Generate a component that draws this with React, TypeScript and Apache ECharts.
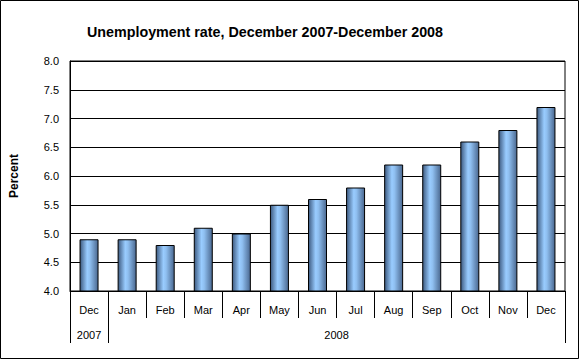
import React, { useEffect, useRef } from "react";
import * as echarts from "echarts";

const titleText = "Unemployment rate, December 2007-December 2008";
const months = ["Dec", "Jan", "Feb", "Mar", "Apr", "May", "Jun", "Jul", "Aug", "Sep", "Oct", "Nov", "Dec"];
const rates = [4.9, 4.9, 4.8, 5.1, 5.0, 5.5, 5.6, 5.8, 6.2, 6.2, 6.6, 6.8, 7.2];
const years = ["2007", "2008"];
// year spans in month-index units: [start, end)
const yearSpans = [
  [0, 1],
  [1, 13],
];
const yAxisName = "Percent";

export default function App() {
  const ref = useRef<HTMLDivElement>(null);
  useEffect(() => {
    if (!ref.current) return;
    const chart = echarts.init(ref.current, null, { renderer: "svg" });
    const font = "Arial, 'Liberation Sans', sans-serif";
    const yearTicks = [yearSpans[0][0], ...yearSpans.map((s) => s[1])];
    const yearCenters = yearSpans.map((s) => (s[0] + s[1]) / 2);
    chart.setOption({
      animation: false,
      backgroundColor: "#ffffff",
      title: {
        text: titleText,
        left: 82,
        top: 20,
        textStyle: { fontFamily: font, fontSize: 14.3, fontWeight: "bold", color: "#000" },
      },
      grid: {
        left: 67,
        right: 15,
        top: 61,
        bottom: 69,
        show: true,
        borderColor: "#000",
        borderWidth: 1,
        containLabel: false,
      },
      xAxis: [
        {
          type: "category",
          data: months,
          position: "bottom",
          axisLine: { show: true, lineStyle: { color: "#000", width: 1 } },
          axisTick: { show: true, length: 27, interval: 0, lineStyle: { color: "#000" } },
          axisLabel: { interval: 0, margin: 13, fontFamily: font, fontSize: 11, color: "#000" },
          splitLine: { show: false },
        },
        {
          type: "value",
          min: 0,
          max: 13,
          position: "bottom",
          axisLine: { show: false },
          splitLine: { show: false },
          axisTick: { show: true, length: 52, customValues: yearTicks, lineStyle: { color: "#000" } },
          axisLabel: {
            customValues: yearCenters,
            margin: 38,
            fontFamily: font,
            fontSize: 11,
            color: "#000",
            formatter: (v: number) => {
              const i = yearCenters.indexOf(v);
              return i >= 0 ? years[i] : "";
            },
          },
        },
      ],
      yAxis: {
        type: "value",
        min: 4,
        max: 8,
        interval: 0.5,
        name: yAxisName,
        nameLocation: "middle",
        nameGap: 50,
        nameTextStyle: { fontFamily: font, fontSize: 12, fontWeight: "bold", color: "#000" },
        axisLine: { show: true, lineStyle: { color: "#000" } },
        axisTick: { show: false },
        axisLabel: {
          margin: 11,
          fontFamily: font,
          fontSize: 11,
          color: "#000",
          formatter: (v: number) => v.toFixed(1),
        },
        splitLine: { show: true, lineStyle: { color: "#000", width: 1 } },
      },
      series: [
        {
          type: "bar",
          data: rates,
          xAxisIndex: 0,
          barWidth: 19,
          itemStyle: {
            borderColor: "#000",
            borderWidth: 1,
            color: new echarts.graphic.LinearGradient(0, 0, 1, 0, [
              { offset: 0, color: "#3d5a80" },
              { offset: 0.4, color: "#99ccff" },
              { offset: 0.55, color: "#8fbff0" },
              { offset: 1, color: "#4a6890" },
            ]),
          },
        },
      ],
      graphic: [
        {
          type: "rect",
          shape: { x: 0.5, y: 0.5, width: 578, height: 358 },
          style: { fill: "none", stroke: "#000", lineWidth: 1 },
          silent: true,
          z: 100,
        },
      ],
    });
    return () => chart.dispose();
  }, []);
  return (
    <div
      ref={ref}
      style={{ position: "absolute", left: 0, top: 0, width: 580, height: 360 }}
    />
  );
}
